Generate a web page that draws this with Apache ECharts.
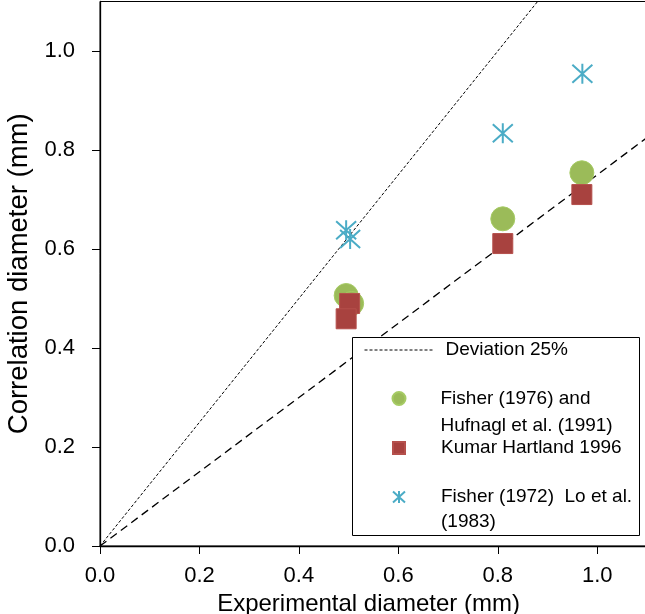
<!DOCTYPE html>
<html>
<head>
<meta charset="utf-8">
<script src="https://cdn.jsdelivr.net/npm/echarts@6/dist/echarts.min.js"></script>
<style>
  html, body { margin: 0; padding: 0; background: #fff; }
  #chart { width: 645px; height: 614px; }
</style>
</head>
<body>
<div id="chart"></div>
<script>
// Experimental vs. correlation bubble diameters (mm)
const tickValues = [0, 0.2, 0.4, 0.6, 0.8, 1.0];

// Fisher (1976) and Hufnagl et al. (1991)
const fisherHufnaglX = [0.495, 0.506, 0.810, 0.969];
const fisherHufnaglY = [0.506, 0.490, 0.661, 0.754];

// Kumar Hartland 1996
const kumarX = [0.502, 0.495, 0.810, 0.969];
const kumarY = [0.490, 0.459, 0.611, 0.710];

// Fisher (1972), Lo et al. (1983)
const fisherLoX = [0.495, 0.503, 0.810, 0.970];
const fisherLoY = [0.638, 0.620, 0.834, 0.954];

// +25% / -25% deviation lines (end points)
const upperDevX = [0, 0.88];
const upperDevY = [0, 1.10];
const lowerDevX = [0, 1.10];
const lowerDevY = [0, 0.825];

const seriesNames = [
  'Deviation 25%',
  'Fisher (1976) and\nHufnagl et al. (1991)',
  'Kumar Hartland 1996',
  'Fisher (1972)  Lo et al.\n(1983)'
];

const FONT = 'Liberation Sans';
const GREEN = '#9BBB59';
const RED = '#A8423F';
const BLUE = '#4BACC6';
const ASTERISK = 'path://M10,0L10,20M0,1L20,19M0,19L20,1';

const pairs = (xs, ys) => xs.map((x, i) => [x, ys[i]]);

const chart = echarts.init(document.getElementById('chart'), null, { renderer: 'canvas' });

const legendBase = {
  orient: 'vertical',
  padding: 0,
  selectedMode: false,
  z: 10,
  textStyle: { fontFamily: FONT, fontSize: 19, color: '#000' }
};

chart.setOption({
  animation: false,
  backgroundColor: '#fff',
  grid: {
    left: 100, right: -2, top: 1.5, bottom: 68,
    containLabel: false,
    outerBoundsMode: 'none',
    show: true, borderColor: '#000', borderWidth: 1, backgroundColor: 'transparent'
  },
  xAxis: {
    type: 'value', min: 0, max: 1.1,
    name: 'Experimental diameter (mm)',
    nameLocation: 'middle', nameGap: 40,
    nameTextStyle: { fontFamily: FONT, fontSize: 24, color: '#000', padding: [0, 10, 0, 0] },
    axisLine: { show: true, lineStyle: { color: '#000', width: 1.3 } },
    axisTick: { show: true, inside: false, length: 8, customValues: tickValues, lineStyle: { color: '#000', width: 1 } },
    axisLabel: {
      customValues: tickValues, margin: 19,
      fontFamily: FONT, fontSize: 22, color: '#000',
      formatter: v => v.toFixed(1)
    },
    splitLine: { show: false }
  },
  yAxis: {
    type: 'value', min: 0, max: 1.1,
    name: 'Correlation diameter (mm)',
    nameLocation: 'middle', nameGap: 62,
    nameTextStyle: { fontFamily: FONT, fontSize: 27.5, color: '#000' },
    axisLine: { show: true, lineStyle: { color: '#000', width: 1.3 } },
    axisTick: { show: true, inside: false, length: 8, customValues: tickValues, lineStyle: { color: '#000', width: 1 } },
    axisLabel: {
      customValues: tickValues, margin: 25,
      fontFamily: FONT, fontSize: 22, color: '#000',
      formatter: v => v.toFixed(1)
    },
    splitLine: { show: false }
  },
  graphic: [{
    type: 'rect', z: 5,
    shape: { x: 352.5, y: 337.5, width: 287, height: 198 },
    style: { fill: '#fff', stroke: '#000', lineWidth: 1 }
  }],
  legend: [
    Object.assign({}, legendBase, {
      data: [seriesNames[0]], left: 364, top: 340,
      itemWidth: 68, itemHeight: 20,
      itemStyle: { color: 'transparent', borderWidth: 0, opacity: 0 },
      lineStyle: { color: '#000', width: 1, type: [3, 2] },
      textStyle: Object.assign({}, legendBase.textStyle, { lineHeight: 20, padding: [0, 0, 0, 8] })
    }),
    Object.assign({}, legendBase, {
      data: [seriesNames[1]], left: 391.5, top: 358,
      itemWidth: 13, itemHeight: 13,
      formatter: n => '\n' + n,
      textStyle: Object.assign({}, legendBase.textStyle, { lineHeight: 27, padding: [0, 0, 0, 30] })
    }),
    Object.assign({}, legendBase, {
      data: [seriesNames[2]], left: 392, top: 438,
      itemWidth: 12, itemHeight: 12,
      textStyle: Object.assign({}, legendBase.textStyle, { lineHeight: 20, padding: [0, 0, 0, 31] })
    }),
    Object.assign({}, legendBase, {
      data: [seriesNames[3]], left: 392, top: 459.5,
      itemWidth: 12, itemHeight: 12,
      formatter: n => '\n' + n,
      itemStyle: { color: 'transparent', borderColor: BLUE, borderWidth: 2 },
      textStyle: Object.assign({}, legendBase.textStyle, { lineHeight: 25, padding: [0, 0, 0, 31] })
    })
  ],
  series: [
    {
      name: seriesNames[0], type: 'line', symbol: 'none', silent: true,
      data: pairs(upperDevX, upperDevY),
      itemStyle: { color: '#000' },
      lineStyle: { color: '#000', width: 1, type: [3, 2] },
      z: 2
    },
    {
      name: 'Deviation -25%', type: 'line', symbol: 'none', silent: true,
      data: pairs(lowerDevX, lowerDevY),
      itemStyle: { color: '#000' },
      lineStyle: { color: '#000', width: 1.3, type: [8, 5] },
      z: 2
    },
    {
      name: seriesNames[1], type: 'scatter', symbol: 'circle', symbolSize: 24,
      data: pairs(fisherHufnaglX, fisherHufnaglY),
      itemStyle: { color: GREEN, borderColor: '#A6CB64', borderWidth: 1, opacity: 1 },
      z: 3
    },
    {
      name: seriesNames[2], type: 'scatter', symbol: 'rect', symbolSize: 20,
      data: pairs(kumarX, kumarY),
      itemStyle: { color: RED, borderColor: '#B5504C', borderWidth: 1, opacity: 1 },
      z: 3
    },
    {
      name: seriesNames[3], type: 'scatter', symbol: ASTERISK, symbolSize: 20,
      data: pairs(fisherLoX, fisherLoY),
      itemStyle: { color: 'transparent', borderColor: BLUE, borderWidth: 2, opacity: 1 },
      z: 3
    }
  ]
});
</script>
</body>
</html>
